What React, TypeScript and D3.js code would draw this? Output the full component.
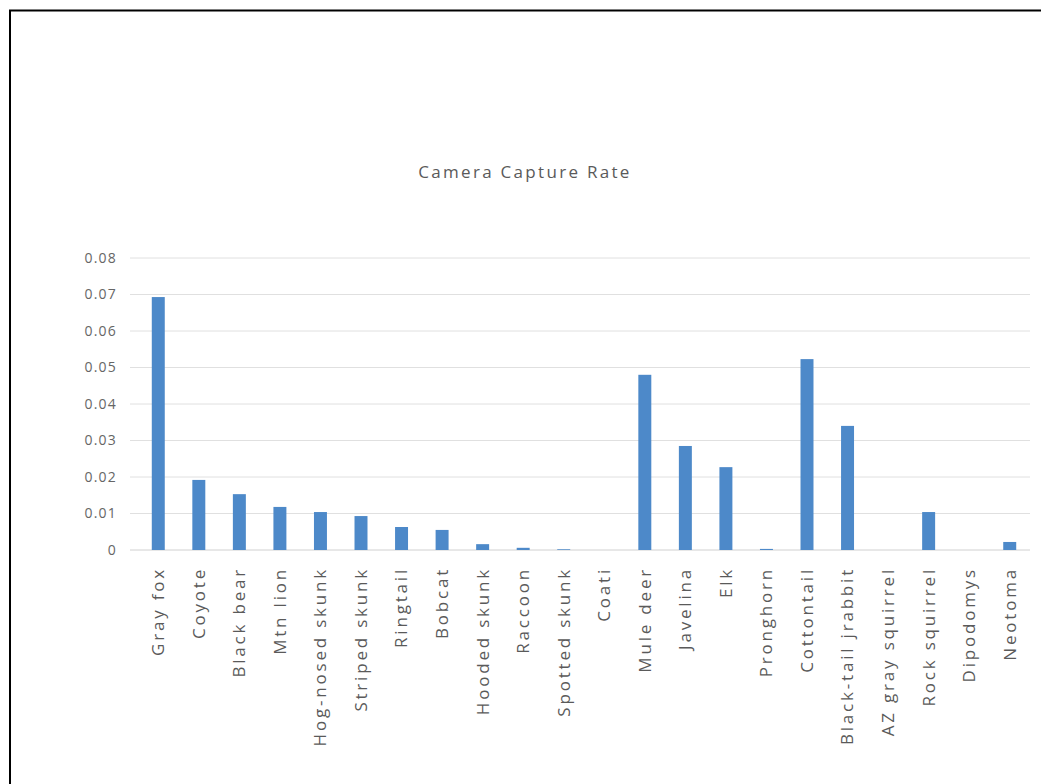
import React from "react";
import * as d3 from "d3";

const categories = [
  "Gray fox", "Coyote", "Black bear", "Mtn lion", "Hog-nosed skunk", "Striped skunk",
  "Ringtail", "Bobcat", "Hooded skunk", "Raccoon", "Spotted skunk", "Coati",
  "Mule deer", "Javelina", "Elk", "Pronghorn", "Cottontail", "Black-tail jrabbit",
  "AZ gray squirrel", "Rock squirrel", "Dipodomys", "Neotoma",
];
const captureRate = [
  0.0693, 0.0192, 0.0153, 0.0118, 0.0104, 0.0093,
  0.0063, 0.0055, 0.0016, 0.0006, 0.0002, 0,
  0.048, 0.0285, 0.0227, 0.0003, 0.0523, 0.034,
  0, 0.0104, 0, 0.0022,
];
const yTicks = [0, 0.01, 0.02, 0.03, 0.04, 0.05, 0.06, 0.07, 0.08];
const title = "Camera Capture Rate";

const W = 1041;
const H = 784;
const plotLeft = 138;
const plotRight = 1030;
const baseY = 550;
const topY = 258;

export default function App() {
  const x = d3.scaleBand<string>().domain(categories).range([plotLeft, plotRight]).paddingInner(0.68).paddingOuter(0.34);
  const y = d3.scaleLinear().domain([0, 0.08]).range([baseY, topY]);
  const font = "'Open Sans', 'Noto Sans', sans-serif";
  return (
    <div style={{ position: "fixed", left: 0, top: 0, width: W, height: H, background: "#fff" }}>
      <svg width={W} height={H} style={{ display: "block" }}>
        <rect x={0} y={0} width={W} height={H} fill="#fff" />
        <line x1={9} y1={10.5} x2={W} y2={10.5} stroke="#000" strokeWidth={2} />
        <line x1={10} y1={10} x2={10} y2={H} stroke="#000" strokeWidth={2} />
        <text x={525} y={178} textAnchor="middle" fontFamily={font} fontSize={17} letterSpacing={2.3} fill="#5a5a5a">{title}</text>
        {yTicks.map((t) => (
          <g key={t}>
            <line x1={130} x2={plotRight} y1={y(t)} y2={y(t)} stroke={t === 0 ? "#d0d0d0" : "#e0e0e0"} strokeWidth={1} />
            <text x={117} y={y(t)} dy="0.35em" textAnchor="end" fontFamily={font} fontSize={14} letterSpacing={1.2} fill="#666">{d3.format("")(t)}</text>
          </g>
        ))}
        {categories.map((c, i) => (
          <rect key={c} x={x(c)} y={y(captureRate[i])} width={x.bandwidth()} height={baseY - y(captureRate[i])} fill="#4d89c9" />
        ))}
        {categories.map((c) => {
          const cx = (x(c) as number) + x.bandwidth() / 2;
          return (
            <text key={c} transform={`translate(${cx},567) rotate(-90)`} dy="0.35em" textAnchor="end" fontFamily={font} fontSize={17} letterSpacing={2.8} fill="#5a5a5a">{c}</text>
          );
        })}
      </svg>
    </div>
  );
}
